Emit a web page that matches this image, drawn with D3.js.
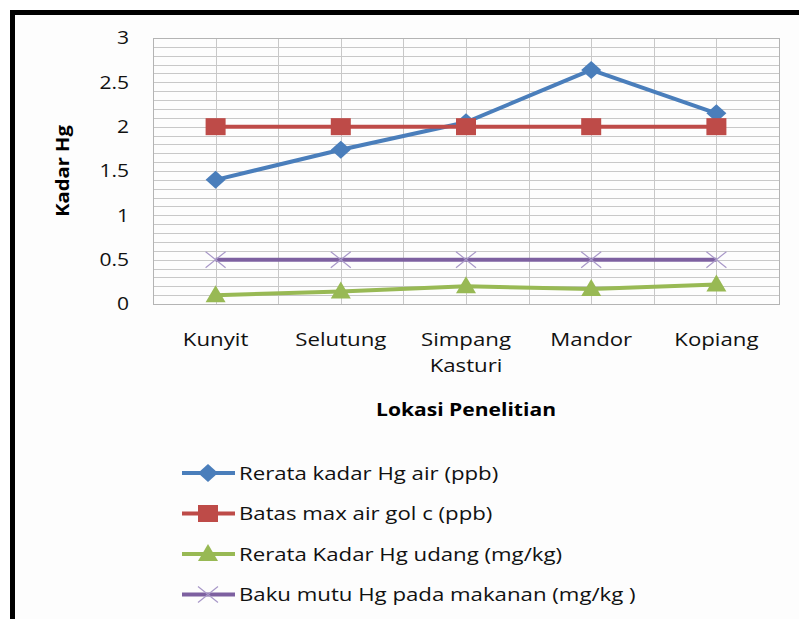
<!DOCTYPE html>
<html>
<head>
<meta charset="utf-8">
<script src="https://cdn.jsdelivr.net/npm/d3@7/dist/d3.min.js"></script>
<style>
  html, body { margin: 0; padding: 0; background: #fff; }
  svg { display: block; font-family: "Open Sans", sans-serif; }
</style>
</head>
<body>
<div id="chart"></div>
<script>
const locations = ['Kunyit', 'Selutung', 'Simpang Kasturi', 'Mandor', 'Kopiang'];
const hgAir = [1.40, 1.74, 2.05, 2.64, 2.15];
const batasAir = [2, 2, 2, 2, 2];
const hgUdang = [0.10, 0.14, 0.20, 0.17, 0.22];
const bakuMutu = [0.5, 0.5, 0.5, 0.5, 0.5];
const yTicks = [0, 0.5, 1, 1.5, 2, 2.5, 3];

const series = [
  { name: 'Rerata kadar Hg air (ppb)', values: hgAir, color: '#4a7ebb', marker: 'diamond' },
  { name: 'Batas max air gol c (ppb)', values: batasAir, color: '#be4b48', marker: 'square' },
  { name: 'Rerata Kadar Hg udang (mg/kg)', values: hgUdang, color: '#98b954', marker: 'triangle' },
  { name: 'Baku mutu Hg pada makanan (mg/kg )', values: bakuMutu, color: '#7d60a0', marker: 'cross' }
];

const width = 799, height = 619;
const plot = { left: 153, right: 779, top: 38, bottom: 304 };
const stretch = 1.17; // the source picture is a bit wider than tall

const svg = d3.select('#chart').append('svg')
  .attr('width', width)
  .attr('height', height);

// outer frame
svg.append('rect')
  .attr('x', 12.5).attr('y', 12.5)
  .attr('width', 820).attr('height', 640)
  .attr('fill', '#fdfdfd')
  .attr('stroke', '#000')
  .attr('stroke-width', 5);

const x = d3.scaleBand().domain(locations).range([plot.left, plot.right]);
const y = d3.scaleLinear().domain([0, 3]).range([plot.bottom, plot.top]);
const cx = d => x(d) + x.bandwidth() / 2;

// text placed at (tx, ty), stretched sideways
function label(parent, tx, ty, str) {
  return parent.append('text')
    .attr('transform', `translate(${tx},${ty}) scale(${stretch},1)`)
    .text(str);
}

// grid
const grid = svg.append('g');
grid.selectAll('.hg')
  .data(y.ticks(30))
  .join('line')
  .attr('x1', plot.left).attr('x2', plot.right)
  .attr('y1', d => Math.round(y(d)) + 0.5).attr('y2', d => Math.round(y(d)) + 0.5)
  .attr('stroke', '#c8c8c8').attr('stroke-width', 1);

const vx = [];
locations.forEach(l => { vx.push(x(l)); vx.push(cx(l)); });
vx.push(plot.right);
grid.selectAll('.vg')
  .data(vx)
  .join('line')
  .attr('x1', d => Math.round(d) + 0.5).attr('x2', d => Math.round(d) + 0.5)
  .attr('y1', plot.top).attr('y2', plot.bottom)
  .attr('stroke', '#c8c8c8').attr('stroke-width', 1);

svg.append('rect')
  .attr('x', plot.left + 0.5).attr('y', Math.round(plot.top) + 0.5)
  .attr('width', plot.right - plot.left).attr('height', plot.bottom - plot.top)
  .attr('fill', 'none').attr('stroke', '#b4b4b4');

// y axis labels
const yAxis = svg.append('g')
  .attr('font-size', 18).attr('fill', '#111').attr('text-anchor', 'end');
yTicks.forEach(t => label(yAxis, 129, y(t), t).attr('dy', '0.35em'));

// x axis labels (wrapped)
const xAxis = svg.append('g')
  .attr('font-size', 19).attr('fill', '#111').attr('text-anchor', 'middle');
locations.forEach(loc => {
  loc.split(' ').forEach((w, i) => label(xAxis, cx(loc), 346 + i * 26, w));
});

// axis titles
const titles = svg.append('g')
  .attr('font-size', 18).attr('font-weight', 'bold').attr('fill', '#000').attr('text-anchor', 'middle');
label(titles, (plot.left + plot.right) / 2, 416, 'Lokasi Penelitian');
titles.append('text')
  .attr('transform', `translate(69,${(plot.top + plot.bottom) / 2}) rotate(-90) scale(1.12,1)`)
  .text('Kadar Hg');

function drawMarker(g, type, color, px, py) {
  if (type === 'diamond') {
    g.append('path')
      .attr('d', `M${px},${py - 9}L${px + 10},${py}L${px},${py + 9}L${px - 10},${py}Z`)
      .attr('fill', color);
  } else if (type === 'square') {
    g.append('rect')
      .attr('x', px - 10).attr('y', py - 8.5)
      .attr('width', 20).attr('height', 17)
      .attr('fill', color);
  } else if (type === 'triangle') {
    g.append('path')
      .attr('d', `M${px},${py - 10}L${px + 10},${py + 7}L${px - 10},${py + 7}Z`)
      .attr('fill', color);
  } else if (type === 'cross') {
    g.append('path')
      .attr('d', `M${px - 10},${py - 8}L${px + 10},${py + 8}M${px - 10},${py + 8}L${px + 10},${py - 8}`)
      .attr('stroke', '#a898c8').attr('stroke-width', 1.2).attr('fill', 'none');
  }
}

const line = d3.line()
  .x((v, i) => cx(locations[i]))
  .y(v => y(v));

series.forEach(s => {
  const g = svg.append('g');
  g.append('path')
    .datum(s.values)
    .attr('d', line)
    .attr('fill', 'none')
    .attr('stroke', s.color)
    .attr('stroke-width', 4)
    .attr('stroke-linejoin', 'round');
  s.values.forEach((v, i) => drawMarker(g, s.marker, s.color, cx(locations[i]), y(v)));
});

// legend
const legend = svg.append('g').attr('font-size', 19).attr('fill', '#111');
series.forEach((s, i) => {
  const ly = 473 + i * 40.5;
  const g = legend.append('g');
  g.append('line')
    .attr('x1', 182).attr('x2', 235)
    .attr('y1', ly).attr('y2', ly)
    .attr('stroke', s.color).attr('stroke-width', 4);
  drawMarker(g, s.marker, s.color, 208, ly);
  label(g, 239, ly, s.name).attr('dy', '0.35em');
});
</script>
</body>
</html>
